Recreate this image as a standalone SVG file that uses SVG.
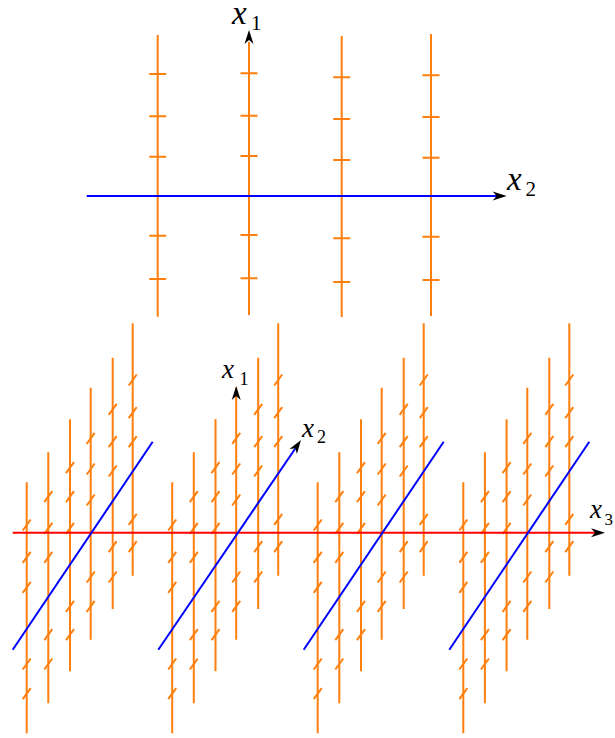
<svg xmlns="http://www.w3.org/2000/svg" xmlns:xlink="http://www.w3.org/1999/xlink" width="615" height="738" viewBox="0 0 615 738">
<style>
.or{stroke:#ff7f0e;stroke-width:2;fill:none}
.bl{stroke:#0000ff;stroke-width:2;fill:none}
.rd{stroke:#ff0000;stroke-width:2;fill:none}
.ax{stroke:none;fill:none}
.lx{font-family:"Liberation Serif","Times New Roman",serif;font-style:italic;fill:#000}
.ls{font-family:"Liberation Serif","Times New Roman",serif;fill:#000}
</style>
<defs>
<marker id="ah" markerUnits="userSpaceOnUse" orient="auto" refX="0" refY="0" markerWidth="1" markerHeight="1" overflow="visible">
<path d="M0,0 L-14,-4.5 L-10,0 L-14,4.5Z" fill="#000"/>
</marker>
<g id="block">
<path class="or" d="M26.7,482.3V733.3M48.3,452.3V703.3M70,419.3V671.3M90.7,387.7V639.7M112.7,357.7V609M132.7,323.3V575.7"/>
<path class="or" d="M22.7,530.5l8,-11M22.7,562.8l8,-11M22.7,592.8l8,-11M22.7,669.5l8,-11M22.7,699.2l8,-11
M44.3,502.2l8,-11M44.3,533.8l8,-11M44.3,562.8l8,-11M44.3,640.2l8,-11M44.3,669.5l8,-11
M66,473.2l8,-11M66,502.2l8,-11M66,533.8l8,-11M66,611.8l8,-11M66,640.2l8,-11
M86.7,443.8l8,-11M86.7,474.5l8,-11M86.7,505.5l8,-11M86.7,582.5l8,-11M86.7,611.8l8,-11
M108.7,414.8l8,-11M108.7,447.2l8,-11M108.7,476.5l8,-11M108.7,552.2l8,-11M108.7,582.5l8,-11
M128.7,385.5l8,-11M128.7,418.2l8,-11M128.7,447.2l8,-11M128.7,524.8l8,-11M128.7,552.2l8,-11"/>
</g>
</defs>

<g id="top-plane">
<g id="top-lines">
<path class="or" d="M157.7,35V316.7M249,42V315M341.7,36V317M431,34V316"/>
<path class="or" d="M149.2,74h17M149.2,116.3h17M149.2,156.7h17M149.2,235.7h17M149.2,279h17
M240.5,73.3h17M240.5,115.7h17M240.5,156h17M240.5,235h17M240.5,278.3h17
M333.2,77.3h17M333.2,119h17M333.2,160h17M333.2,238.3h17M333.2,282h17
M422.5,75.3h17M422.5,117h17M422.5,157.7h17M422.5,236.7h17M422.5,280h17"/>
</g>
<g id="top-axes">
<path class="bl" d="M86.7,196H500"/>
<path class="ax" d="M490,196H506.7" marker-end="url(#ah)"/>
<path class="ax" d="M249,50V30" marker-end="url(#ah)"/>
</g>
<g id="top-labels">
<text class="lx" x="232" y="24" font-size="33">x</text>
<text class="ls" x="251" y="29.5" font-size="21">1</text>
<text class="lx" x="507" y="190" font-size="33">x</text>
<text class="ls" x="525.5" y="196" font-size="21">2</text>
</g>
</g>

<g id="bottom-space">
<g id="blocks">
<use xlink:href="#block" href="#block"/>
<use xlink:href="#block" href="#block" transform="translate(145.5,0)"/>
<use xlink:href="#block" href="#block" transform="translate(291,0)"/>
<use xlink:href="#block" href="#block" transform="translate(436.6,0)"/>
</g>
<g id="connectors">
<path class="rd" d="M12.7,532.7H598"/>
<path class="ax" d="M590,532.7H605" marker-end="url(#ah)"/>
<path class="bl" d="M12.7,649.7L152.7,441.7"/>
<path class="bl" d="M158.3,649.7L297,446"/>
<path class="ax" d="M290,456.3L301,440" marker-end="url(#ah)"/>
<path class="bl" d="M303.7,649.7L443.7,441.7"/>
<path class="bl" d="M449.3,649.7L589.3,441.7"/>
<path class="ax" d="M236.2,400V386" marker-end="url(#ah)"/>
</g>
<g id="bottom-labels">
<text class="lx" x="222" y="378" font-size="27">x</text>
<text class="ls" x="239.5" y="385" font-size="18">1</text>
<text class="lx" x="302" y="437" font-size="27">x</text>
<text class="ls" x="317" y="443" font-size="18">2</text>
<text class="lx" x="590" y="518" font-size="27">x</text>
<text class="ls" x="604.5" y="525" font-size="17">3</text>
</g>
</g>
</svg>
